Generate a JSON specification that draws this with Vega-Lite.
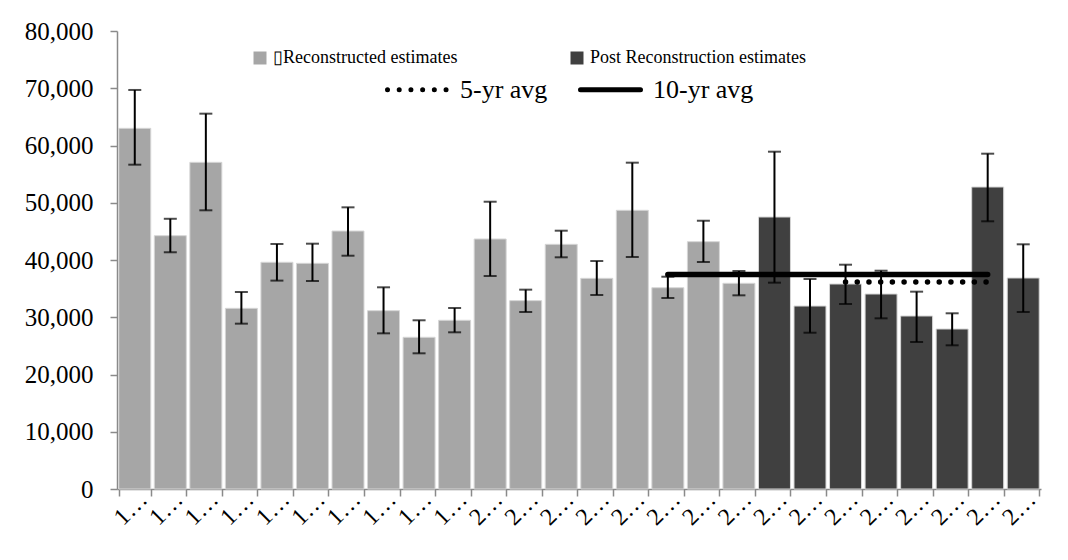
{
  "$schema": "https://vega.github.io/schema/vega-lite/v6.json",
  "width": 924,
  "height": 458,
  "autosize": "none",
  "padding": {"left": 117, "top": 31, "right": 27, "bottom": 71},
  "background": "white",
  "config": {
    "view": {"stroke": null},
    "font": "Liberation Serif",
    "axis": {"labelFont": "Liberation Serif", "labelColor": "black", "domainColor": "#8a8a8a", "tickColor": "#8a8a8a", "domainWidth": 1.5, "tickWidth": 1.5, "tickSize": 7, "grid": false},
    "legend": {"labelFont": "Liberation Serif", "labelColor": "black"}
  },
  "datasets": {
    "bars": [
      {"year": 1990, "estimate": 63000, "lower": 56650, "upper": 69700, "period": "Reconstructed estimates"},
      {"year": 1991, "estimate": 44250, "lower": 41350, "upper": 47200, "period": "Reconstructed estimates"},
      {"year": 1992, "estimate": 57060, "lower": 48680, "upper": 65560, "period": "Reconstructed estimates"},
      {"year": 1993, "estimate": 31560, "lower": 28880, "upper": 34410, "period": "Reconstructed estimates"},
      {"year": 1994, "estimate": 39600, "lower": 36400, "upper": 42800, "period": "Reconstructed estimates"},
      {"year": 1995, "estimate": 39420, "lower": 36330, "upper": 42850, "period": "Reconstructed estimates"},
      {"year": 1996, "estimate": 45060, "lower": 40750, "upper": 49200, "period": "Reconstructed estimates"},
      {"year": 1997, "estimate": 31150, "lower": 27190, "upper": 35230, "period": "Reconstructed estimates"},
      {"year": 1998, "estimate": 26500, "lower": 23700, "upper": 29470, "period": "Reconstructed estimates"},
      {"year": 1999, "estimate": 29470, "lower": 27370, "upper": 31620, "period": "Reconstructed estimates"},
      {"year": 2000, "estimate": 43670, "lower": 37200, "upper": 50180, "period": "Reconstructed estimates"},
      {"year": 2001, "estimate": 32900, "lower": 30920, "upper": 34820, "period": "Reconstructed estimates"},
      {"year": 2002, "estimate": 42740, "lower": 40470, "upper": 45120, "period": "Reconstructed estimates"},
      {"year": 2003, "estimate": 36800, "lower": 33890, "upper": 39820, "period": "Reconstructed estimates"},
      {"year": 2004, "estimate": 48680, "lower": 40520, "upper": 57000, "period": "Reconstructed estimates"},
      {"year": 2005, "estimate": 35160, "lower": 33360, "upper": 37080, "period": "Reconstructed estimates"},
      {"year": 2006, "estimate": 43200, "lower": 39650, "upper": 46860, "period": "Reconstructed estimates"},
      {"year": 2007, "estimate": 35930, "lower": 33830, "upper": 38080, "period": "Reconstructed estimates"},
      {"year": 2008, "estimate": 47510, "lower": 36040, "upper": 58920, "period": "Post Reconstruction estimates"},
      {"year": 2009, "estimate": 31960, "lower": 27300, "upper": 36680, "period": "Post Reconstruction estimates"},
      {"year": 2010, "estimate": 35810, "lower": 32310, "upper": 39180, "period": "Post Reconstruction estimates"},
      {"year": 2011, "estimate": 34060, "lower": 29810, "upper": 38130, "period": "Post Reconstruction estimates"},
      {"year": 2012, "estimate": 30220, "lower": 25680, "upper": 34470, "period": "Post Reconstruction estimates"},
      {"year": 2013, "estimate": 27950, "lower": 25100, "upper": 30690, "period": "Post Reconstruction estimates"},
      {"year": 2014, "estimate": 52750, "lower": 46760, "upper": 58570, "period": "Post Reconstruction estimates"},
      {"year": 2015, "estimate": 36860, "lower": 30920, "upper": 42740, "period": "Post Reconstruction estimates"}
    ],
    "avgs": [
      {"year": 2005, "average": 37455, "series": "10-yr avg"},
      {"year": 2006, "average": 37455, "series": "10-yr avg"},
      {"year": 2007, "average": 37455, "series": "10-yr avg"},
      {"year": 2008, "average": 37455, "series": "10-yr avg"},
      {"year": 2009, "average": 37455, "series": "10-yr avg"},
      {"year": 2010, "average": 37455, "series": "10-yr avg"},
      {"year": 2011, "average": 37455, "series": "10-yr avg"},
      {"year": 2012, "average": 37455, "series": "10-yr avg"},
      {"year": 2013, "average": 37455, "series": "10-yr avg"},
      {"year": 2014, "average": 37455, "series": "10-yr avg"},
      {"year": 2010, "average": 36158, "series": "5-yr avg"},
      {"year": 2011, "average": 36158, "series": "5-yr avg"},
      {"year": 2012, "average": 36158, "series": "5-yr avg"},
      {"year": 2013, "average": 36158, "series": "5-yr avg"},
      {"year": 2014, "average": 36158, "series": "5-yr avg"}
    ]
  },
  "layer": [
    {
      "data": {"name": "bars"},
      "mark": {"type": "bar", "stroke": "#d6d6d6", "strokeWidth": 1},
      "encoding": {
        "x": {
          "field": "year", "type": "ordinal",
          "scale": {"paddingInner": 0.1, "paddingOuter": 0.05},
          "axis": {"title": null, "labelAngle": -45, "labelFontSize": 24, "labelLimit": 40, "tickBand": "extent", "labelDx": 20, "labelPadding": -9}
        },
        "y": {
          "field": "estimate", "type": "quantitative",
          "scale": {"domain": [0, 80000]},
          "axis": {"title": null, "values": [0, 10000, 20000, 30000, 40000, 50000, 60000, 70000, 80000], "format": ",.0f", "labelFontSize": 25, "labelPadding": 17}
        },
        "color": {
          "field": "period", "type": "nominal",
          "scale": {"domain": ["Reconstructed estimates", "Post Reconstruction estimates"], "range": ["#a6a6a6", "#404040"]},
          "legend": {
            "orient": "none", "legendX": 134, "legendY": 18, "direction": "horizontal", "columns": 2, "columnPadding": 110,
            "title": null, "symbolType": "square", "symbolSize": 169, "symbolStrokeWidth": 0, "labelFontSize": 18,
            "labelOffset": 4, "labelLimit": 400, "padding": 0,
            "labelExpr": "datum.label == 'Reconstructed estimates' ? '\u25afReconstructed estimates' : '\u00a0Post Reconstruction estimates'"
          }
        }
      }
    },
    {
      "data": {"name": "bars"},
      "mark": {"type": "rule", "color": "black", "strokeWidth": 2},
      "encoding": {
        "x": {"field": "year", "type": "ordinal"},
        "y": {"field": "lower", "type": "quantitative", "title": null},
        "y2": {"field": "upper"}
      }
    },
    {
      "data": {"name": "bars"},
      "mark": {"type": "tick", "color": "black", "thickness": 2, "size": 13},
      "encoding": {
        "x": {"field": "year", "type": "ordinal"},
        "y": {"field": "lower", "type": "quantitative", "title": null}
      }
    },
    {
      "data": {"name": "bars"},
      "mark": {"type": "tick", "color": "black", "thickness": 2, "size": 13},
      "encoding": {
        "x": {"field": "year", "type": "ordinal"},
        "y": {"field": "upper", "type": "quantitative", "title": null}
      }
    },
    {
      "data": {"name": "avgs"},
      "mark": {"type": "line", "color": "black", "strokeWidth": 5.5, "strokeCap": "round"},
      "encoding": {
        "x": {"field": "year", "type": "ordinal"},
        "y": {"field": "average", "type": "quantitative", "title": null},
        "strokeDash": {
          "field": "series", "type": "nominal",
          "scale": {"domain": ["5-yr avg", "10-yr avg"], "range": [[0.01, 11.7], [1, 0]]},
          "legend": {
            "orient": "none", "legendX": 268, "legendY": 26, "direction": "horizontal", "columns": 2, "columnPadding": 22,
            "title": null, "symbolType": "stroke", "symbolSize": 3600, "symbolStrokeWidth": 5, "symbolStrokeColor": "black",
            "labelFontSize": 26, "labelOffset": 10, "padding": 0,
            "encode": {"symbols": {"update": {"strokeCap": {"value": "round"}}}}
          }
        }
      }
    }
  ]
}
